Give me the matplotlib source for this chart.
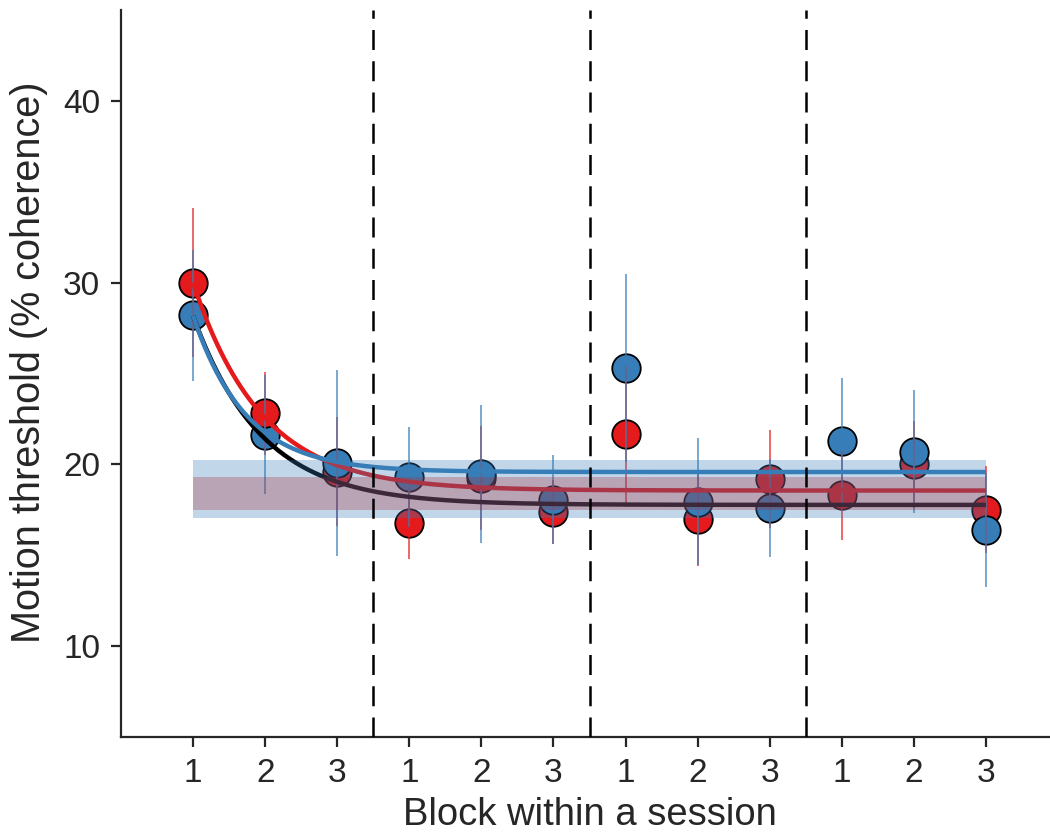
import numpy as np
import matplotlib
matplotlib.use("Agg")
import matplotlib.pyplot as plt

# ---------------- data ----------------
x_pos = list(range(1, 13))
tick_labels = ["1", "2", "3"] * 4
session_bounds = [3.5, 6.5, 9.5]

red_vals = [30.0, 22.8, 19.6, 16.8, 19.25, 17.37, 21.65, 17.0, 19.2, 18.3, 20.0, 17.5]
red_err = [4.1, 2.3, 3.0, 2.0, 2.85, 1.75, 3.75, 2.6, 2.7, 2.45, 2.4, 2.4]
blue_vals = [28.2, 21.64, 20.07, 19.3, 19.47, 18.05, 25.3, 17.95, 17.6, 21.3, 20.7, 16.4]
blue_err = [3.6, 3.25, 5.1, 2.75, 3.8, 2.45, 5.15, 3.5, 2.7, 3.45, 3.4, 3.15]
red_on_top = [True, True, False, False, False, False, False, False, False, False, False, False]

# exponential fits: asymptote, amplitude at block 1, time constant (blocks)
fit_red = (18.56, 11.44, 0.95)
fit_blue = (19.58, 8.6, 0.73)
fit_black = (17.77, 10.4, 0.95)

# asymptote confidence bands
band_blue = (17.03, 20.26)
band_purple = (17.5, 19.3)

RED = "#e41a1c"
BLUE = "#377eb8"
TXT = "#262626"

plt.rcParams['font.family'] = ['Liberation Sans', 'DejaVu Sans']

fig = plt.figure(figsize=(10.5, 8.39), dpi=100)
ax = fig.add_axes([121/1050, 102/839, 937/1050, 727/839])

# points
for i, x in enumerate(x_pos):
    zr = 3.3 if red_on_top[i] else 3.1
    ax.plot(x, blue_vals[i], 'o', ms=20.5, mfc=BLUE, mec='black', mew=1.3, zorder=3.2)
    ax.plot(x, red_vals[i], 'o', ms=20.5, mfc=RED, mec='black', mew=1.3, zorder=zr)

# error bars (on top of markers, translucent)
ax.vlines(x_pos, np.array(red_vals) - np.array(red_err), np.array(red_vals) + np.array(red_err),
          colors=RED, lw=1.1, alpha=0.85, zorder=4)
ax.vlines(x_pos, np.array(blue_vals) - np.array(blue_err), np.array(blue_vals) + np.array(blue_err),
          colors=BLUE, lw=1.1, alpha=0.85, zorder=4.1)

# fitted curves
xx = np.linspace(1, 12, 400)
def expfit(p):
    c, a, tau = p
    return c + a * np.exp(-(xx - 1) / tau)

ax.plot(xx, expfit(fit_black), color='black', lw=3.2, zorder=5, solid_capstyle='butt')
ax.plot(xx, expfit(fit_red), color=RED, lw=3.2, zorder=5.1, solid_capstyle='butt')
ax.plot(xx, expfit(fit_blue), color=BLUE, lw=3.2, zorder=5.2, solid_capstyle='butt')

# bands
ax.fill_between([1, 12], band_blue[0], band_blue[1], color=BLUE, alpha=0.31, lw=0, zorder=6)
ax.fill_between([1, 12], band_purple[0], band_purple[1], color="#a52f3d", alpha=0.3, lw=0, zorder=6.1)

# session separators
for b in session_bounds:
    ax.axvline(b, color='black', lw=1.8, linestyle=(0, (8, 4.5)), zorder=7)

ax.set_xlim(0, 13)
ax.set_ylim(5, 45)
ax.set_xticks(x_pos)
ax.set_xticklabels(tick_labels)
ax.set_yticks([10, 20, 30, 40])

for s in ['top', 'right']:
    ax.spines[s].set_visible(False)
for s in ['left', 'bottom']:
    ax.spines[s].set_linewidth(1.6)
    ax.spines[s].set_color(TXT)

ax.tick_params(axis='both', direction='out', length=7, width=1.6, color=TXT,
               labelsize=24, labelcolor=TXT, pad=8)

ax.set_xlabel("Block within a session", fontsize=27.5, color=TXT, labelpad=6)
ax.set_ylabel("Motion threshold (% coherence)", fontsize=28.5, color=TXT)
ax.yaxis.set_label_coords(-0.078, 0.515)

fig.savefig("out.png", dpi=100)
